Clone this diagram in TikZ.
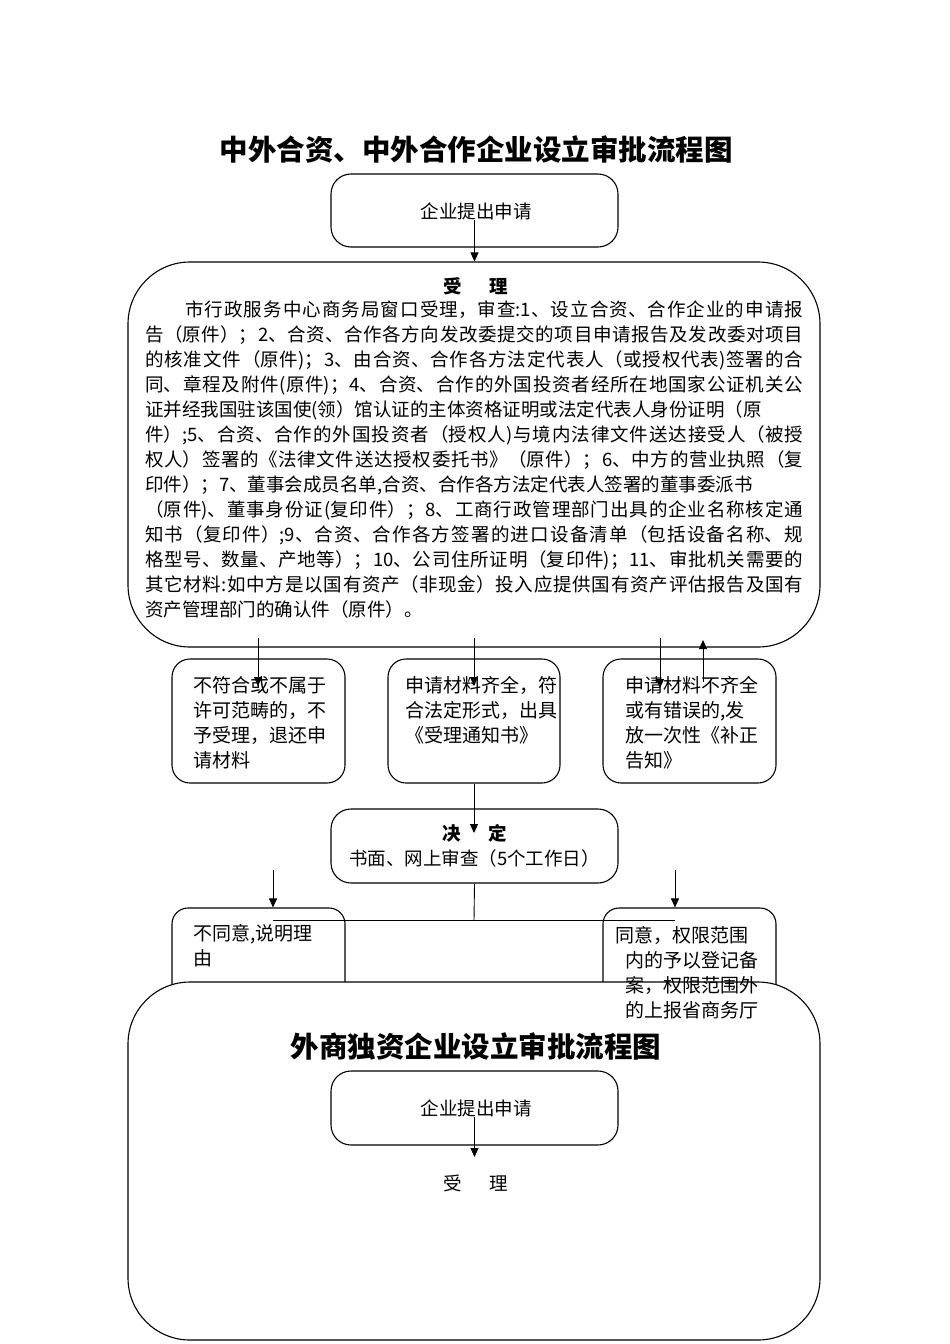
\documentclass[tikz,border=0pt]{standalone}
\usepackage{fontspec}
\setmainfont{Noto Sans CJK SC}
\usetikzlibrary{arrows.meta}
\XeTeXlinebreaklocale "zh"
\XeTeXlinebreakskip=0pt plus 4pt
\begin{document}
\begin{tikzpicture}[x=1pt,y=-1pt,
  box/.style={draw, line width=1.1pt, rounded corners=#1, inner sep=0pt, shape=rectangle},
  txt/.style={anchor=north west, inner sep=0pt, align=left, font=\fontsize{19}{25}\selectfont},
  arr/.style={line width=0.9pt, -{Triangle[length=9pt,width=8pt]}},
  ln/.style={line width=0.9pt}]
\useasboundingbox (0,0) rectangle (950,1344);
% ---------- first chart ----------
\node[font=\bfseries\fontsize{28.5}{34}\selectfont, inner sep=0pt] (title1) at (476,149) {中外合资、中外合作企业设立审批流程图};
\node[box=20, minimum width=287pt, minimum height=73pt] (b1) at (474.5,210.5) {};
\node[font=\fontsize{18.5}{22}\selectfont, inner sep=0pt] (t1) at (476,211) {企业提出申请};
\node[box=62, minimum width=692pt, minimum height=385pt] (bigA) at (474,454.5) {};
\node[font=\bfseries\fontsize{18.5}{22}\selectfont, inner sep=0pt] (sl1) at (476,286) {受\hspace{27.5pt}理};
\node[anchor=north west, inner sep=0pt, text width=658pt, align=justify,
      font=\fontsize{18.5}{25}\selectfont] (para) at (145,300.7)
{\tolerance=9999\emergencystretch=20pt
\hspace*{40pt}市行政服务中心商务局窗口受理，审查:1、设立合资、合作企业的申请报\linebreak
告（原件）；2、合资、合作各方向发改委提交的项目申请报告及发改委对项目\linebreak
的核准文件（原件)；3、由合资、合作各方法定代表人（或授权代表)签署的合\linebreak
同、章程及附件(原件)；4、合资、合作的外国投资者经所在地国家公证机关公\linebreak
证并经我国驻该国使(领）馆认证的主体资格证明或法定代表人身份证明（原\newline
件）;5、合资、合作的外国投资者（授权人)与境内法律文件送达接受人（被授\linebreak
权人）签署的《法律文件送达授权委托书》（原件）；6、中方的营业执照（复\linebreak
印件）；7、董事会成员名单,合资、合作各方法定代表人签署的董事委派书\newline
（原件)、董事身份证(复印件）；8、工商行政管理部门出具的企业名称核定通\linebreak
知书（复印件）;9、合资、合作各方签署的进口设备清单（包括设备名称、规\linebreak
格型号、数量、产地等）；10、公司住所证明（复印件)；11、审批机关需要的\linebreak
其它材料:如中方是以国有资产（非现金）投入应提供国有资产评估报告及国有\linebreak
资产管理部门的确认件（原件）。};
% row of three boxes
\node[box=18, minimum width=173pt, minimum height=124pt] (bA) at (258.5,721) {};
\node[box=18, minimum width=172pt, minimum height=124pt] (bB) at (474,721) {};
\node[box=18, minimum width=173pt, minimum height=124pt] (bC) at (689.5,721) {};
\node[txt] (tA) at (193,676) {不符合或不属于\\许可范畴的，不\\予受理，退还申\\请材料};
\node[txt] (tB) at (405,676) {申请材料齐全，符\\合法定形式，出具\\《受理通知书》};
\node[txt] (tC) at (625,676) {申请材料不齐全\\或有错误的,发\\放一次性《补正\\告知》};
% decision
\node[box=20, minimum width=287pt, minimum height=74pt, align=center,
      font=\fontsize{18.5}{25}\selectfont] (dec) at (474.5,846)
      {\textbf{决\hspace{28pt}定}\\书面、网上审查（5个工作日）};
% result boxes (lower parts hidden by second chart)
\node[box=16, minimum width=173pt, minimum height=110pt] (bD) at (258.5,963) {};
\node[box=16, minimum width=173pt, minimum height=110pt] (bE) at (689.5,963) {};
\node[txt] (tD) at (193,924) {不同意,说明理\\由};
% ---------- connectors of first chart ----------
\draw[arr] (b1.center |- t1.south) -- (b1.center |- bigA.north);
\coordinate (s1) at (258,638); \coordinate (e1) at (258,686);
\coordinate (s2) at (474,638); \coordinate (e2) at (474,686);
\coordinate (s3) at (660,638); \coordinate (e3) at (660,688);
\coordinate (u1) at (703,682); \coordinate (u2) at (703,640);
\draw[arr] (s1) -- (e1);
\draw[arr] (s2) -- (e2);
\draw[arr] (s3) -- (e3);
\draw[arr] (u1) -- (u2);
\coordinate (d1e) at (474,833);
\draw[arr] (bB.south) -- (d1e);
\coordinate (hm) at (474,920); \coordinate (hl) at (273,920); \coordinate (hr) at (675,920);
\draw[ln] (dec.south) -- (hm);
\draw[ln] (hl) -- (hr);
\coordinate (dl) at (273,870); \coordinate (dr) at (675,870);
\draw[arr] (dl) -- (dl |- bD.north);
\draw[arr] (dr) -- (dr |- bE.north);
% ---------- second chart ----------
\node[box=62, fill=white, minimum width=692pt, minimum height=358pt] (bigB) at (474,1161) {};
\node[txt] (tE) at (625,926) {\hspace*{-10pt}同意，权限范围\\内的予以登记备\\案，权限范围外\\的上报省商务厅};
\node[font=\bfseries\fontsize{28.5}{34}\selectfont, inner sep=0pt] (title2) at (476,1046) {外商独资企业设立审批流程图};
\node[box=20, minimum width=287pt, minimum height=74pt] (b3) at (474.5,1108) {};
\node[font=\fontsize{18.5}{22}\selectfont, inner sep=0pt] (t3) at (476,1108) {企业提出申请};
\coordinate (e4) at (474.5,1157);
\draw[arr] (b3.center |- t3.south) -- (e4);
\node[font=\fontsize{18.5}{22}\selectfont, inner sep=0pt] (sl2) at (476,1183) {受\hspace{27.5pt}理};
\end{tikzpicture}
\end{document}
